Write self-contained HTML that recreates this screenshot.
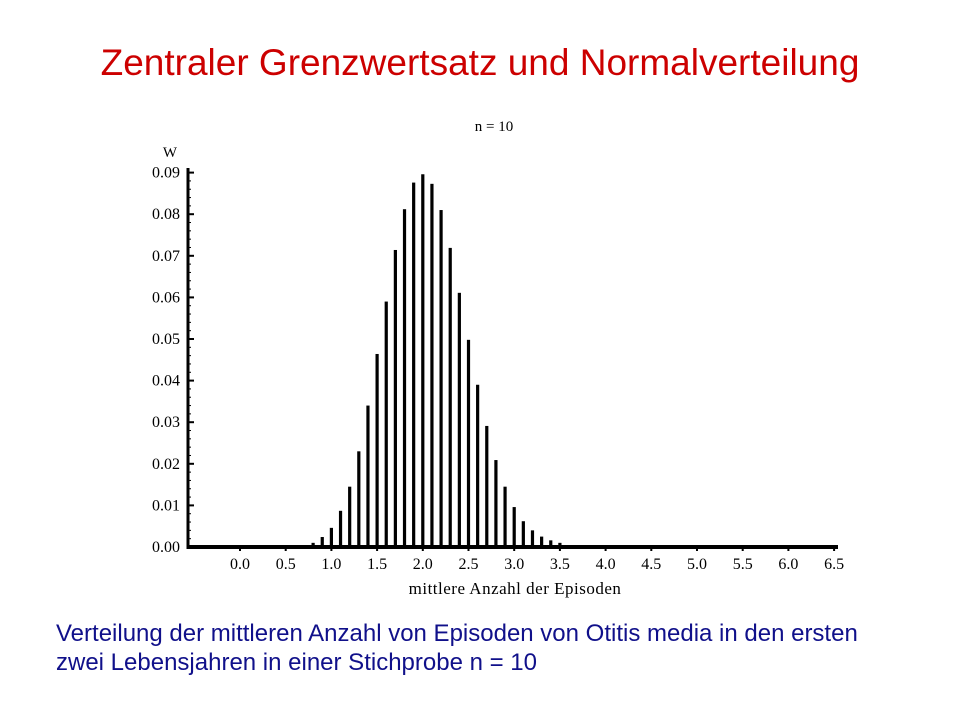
<!DOCTYPE html>
<html><head><meta charset="utf-8">
<style>
body{margin:0;background:#fff;width:960px;height:720px;overflow:hidden;position:relative;font-family:"Liberation Sans",sans-serif}
#title{position:absolute;left:0;width:960px;top:44px;line-height:1;text-align:center;color:#cc0000;font-size:37px}
.cap{position:absolute;left:56px;color:#10108a;font-size:24px;line-height:29px;white-space:nowrap}
</style></head><body>
<div id="title">Zentraler Grenzwertsatz und Normalverteilung</div>
<svg id="chart" width="960" height="720" style="position:absolute;left:0;top:0" font-family="Liberation Serif, serif"></svg>
<div class="cap" style="top:619px">Verteilung der mittleren Anzahl von Episoden von Otitis media in den ersten</div>
<div class="cap" style="top:648px">zwei Lebensjahren in einer Stichprobe n = 10</div>
<script>
const xValues=[0.8,0.9,1.0,1.1,1.2,1.3,1.4,1.5,1.6,1.7,1.8,1.9,2.0,2.1,2.2,2.3,2.4,2.5,2.6,2.7,2.8,2.9,3.0,3.1,3.2,3.3,3.4,3.5];
const yValues=[0.001,0.0024,0.0046,0.0087,0.0145,0.023,0.034,0.0464,0.059,0.0714,0.0812,0.0876,0.0896,0.0873,0.081,0.0719,0.0611,0.0498,0.039,0.0291,0.0209,0.0145,0.0096,0.0062,0.004,0.0025,0.0016,0.001];
const xTicks=["0.0","0.5","1.0","1.5","2.0","2.5","3.0","3.5","4.0","4.5","5.0","5.5","6.0","6.5"];
const yTicks=["0.00","0.01","0.02","0.03","0.04","0.05","0.06","0.07","0.08","0.09"];
const svg=document.getElementById('chart');
const NS='http://www.w3.org/2000/svg';
const X=v=>240+v*91.4;
const Y=v=>547-v*41.6/0.01;
function mk(t,a,txt){const e=document.createElementNS(NS,t);for(const k in a)e.setAttribute(k,a[k]);if(txt!==undefined)e.textContent=txt;svg.appendChild(e);return e;}
let e;
e=mk('line',{x1:188,y1:168,x2:188,y2:549,stroke:'#000','stroke-width':3});


e=mk('line',{x1:188,y1:547,x2:838,y2:547,stroke:'#000','stroke-width':4});


yTicks.forEach((t,idx)=>{const y=Y(parseFloat(t));
 e=mk('line',{x1:188,y1:y,x2:194,y2:y,stroke:'#000','stroke-width':2});
 
 
 if(idx<yTicks.length-1){for(let i=1;i<5;i++){mk('line',{x1:188,y1:y-i*8.32,x2:191,y2:y-i*8.32,stroke:'#000','stroke-width':1});}}
 e=mk('text',{x:180,y:y+5,'text-anchor':'end','font-size':16},t);
 
 
});
xTicks.forEach(t=>{const x=X(parseFloat(t));
 e=mk('line',{x1:x,y1:545,x2:x,y2:551,stroke:'#000','stroke-width':2});
 
 
 e=mk('text',{x:x,y:569,'text-anchor':'middle','font-size':16},t);
 
 
});
xValues.forEach((v,i)=>{
 e=mk('rect',{x:X(v)-1.6,y:Y(yValues[i]),width:3.2,height:547-Y(yValues[i]),fill:'#000'});
 
 
});
e=mk('text',{x:170,y:157,'text-anchor':'middle','font-size':15},'W');


e=mk('text',{x:494,y:131,'text-anchor':'middle','font-size':15},'n = 10');


e=mk('text',{x:515,y:594,'text-anchor':'middle','font-size':17,'letter-spacing':'0.5'},'mittlere Anzahl der Episoden');


</script>
</body></html>
